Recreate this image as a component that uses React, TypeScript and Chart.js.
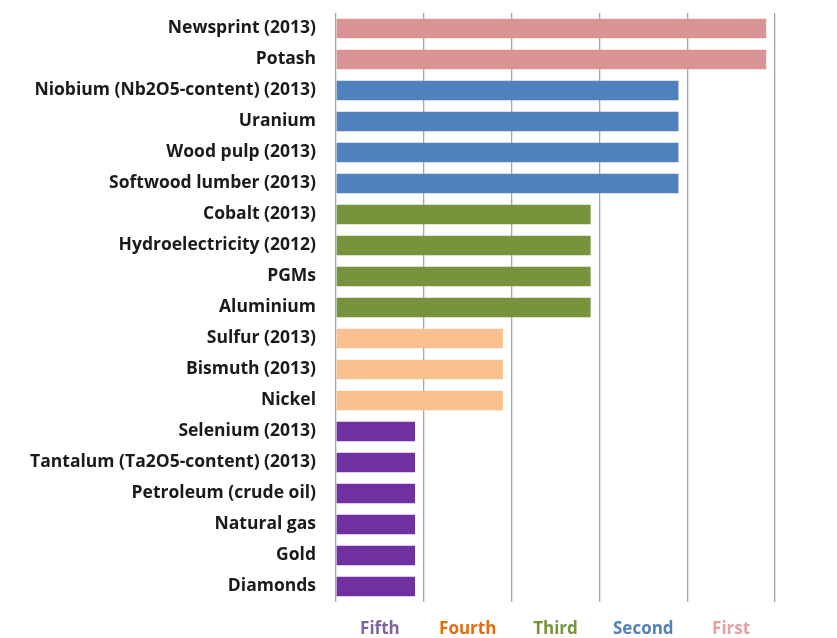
import React, { useEffect, useRef } from "react";
import { Chart, registerables } from "chart.js";

Chart.register(...registerables);

const categories = [
  "Newsprint (2013)",
  "Potash",
  "Niobium (Nb2O5-content) (2013)",
  "Uranium",
  "Wood pulp (2013)",
  "Softwood lumber (2013)",
  "Cobalt (2013)",
  "Hydroelectricity (2012)",
  "PGMs",
  "Aluminium",
  "Sulfur (2013)",
  "Bismuth (2013)",
  "Nickel",
  "Selenium (2013)",
  "Tantalum (Ta2O5-content) (2013)",
  "Petroleum (crude oil)",
  "Natural gas",
  "Gold",
  "Diamonds",
];

const values = [4.9, 4.9, 3.9, 3.9, 3.9, 3.9, 2.9, 2.9, 2.9, 2.9, 1.9, 1.9, 1.9, 0.9, 0.9, 0.9, 0.9, 0.9, 0.9];

const barColors = [
  "#d99594", "#d99594",
  "#4f81bd", "#4f81bd", "#4f81bd", "#4f81bd",
  "#77933c", "#77933c", "#77933c", "#77933c",
  "#fac090", "#fac090", "#fac090",
  "#7030a0", "#7030a0", "#7030a0", "#7030a0", "#7030a0", "#7030a0",
];

const rankLabels = ["Fifth", "Fourth", "Third", "Second", "First"];
const rankColors = ["#8064a2", "#e46c0a", "#77933c", "#4f81bd", "#e6a0a0"];

export default function App() {
  const ref = useRef<HTMLCanvasElement | null>(null);

  useEffect(() => {
    if (!ref.current) return;
    const chart = new Chart(ref.current, {
      type: "bar",
      data: {
        labels: categories,
        datasets: [
          {
            data: values,
            backgroundColor: barColors,
            borderWidth: 0,
            barPercentage: 0.63,
            categoryPercentage: 1,
            xAxisID: "x",
            yAxisID: "y",
          },
        ],
      },
      options: {
        indexAxis: "y",
        animation: false,
        responsive: false,
        maintainAspectRatio: false,
        layout: { padding: { top: 13, right: 62, left: 0, bottom: 0 } },
        plugins: { legend: { display: false }, tooltip: { enabled: false } },
        scales: {
          x: {
            type: "linear",
            min: 0,
            max: 5,
            position: "bottom",
            ticks: { display: false, stepSize: 1 },
            grid: { color: "#a6a6a6", lineWidth: 1.3, drawTicks: false },
            border: { display: false },
            afterFit: (s: any) => {
              s.height = 0;
              s.paddingLeft = 0;
              s.paddingRight = 0;
            },
          },
          x2: {
            type: "category",
            labels: rankLabels,
            position: "bottom",
            offset: true,
            grid: { display: false, drawTicks: false },
            border: { display: false },
            ticks: {
              padding: 17,
              color: (c: any) => rankColors[c.index],
              font: { family: "Open Sans", size: 17, weight: "bold" },
            },
            afterFit: (s: any) => {
              s.height = 36;
              s.paddingLeft = 0;
              s.paddingRight = 0;
            },
          },
          y: {
            type: "category",
            grid: { display: false, drawTicks: false },
            border: { display: false },
            ticks: {
              padding: 20,
              color: "#1a1a1a",
              autoSkip: false,
              font: { family: "Open Sans", size: 17.5, weight: "bold" },
            },
            afterFit: (s: any) => {
              s.width = 336;
              s.paddingTop = 0;
              s.paddingBottom = 0;
            },
          },
        },
      },
    });
    return () => chart.destroy();
  }, []);

  return (
    <div style={{ position: "fixed", left: 0, top: 0, width: 837, height: 638, background: "#fff" }}>
      <canvas ref={ref} width={837} height={638} style={{ width: 837, height: 638 }} />
    </div>
  );
}
